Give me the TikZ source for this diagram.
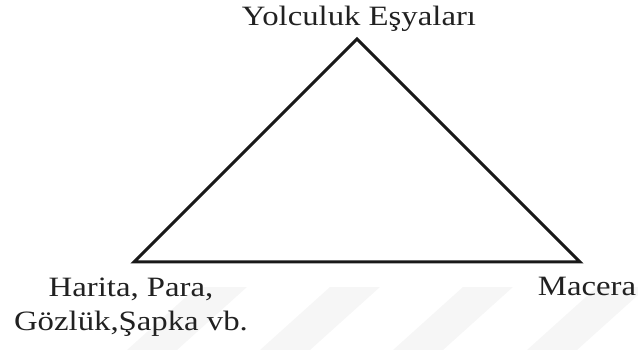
\documentclass[tikz,border=0pt]{standalone}
\usepackage{fontspec}
\setmainfont{Liberation Serif}[FakeStretch=1.17]
\begin{document}
\begin{tikzpicture}[x=1pt,y=-1pt,
  lbl/.style={inner sep=0pt, font=\fontsize{28}{33.6}\selectfont, text=black!87},
  tri/.style={line width=3pt, line join=miter, black!90},
  wm/.style={fill=gray!7, draw=none}]
\useasboundingbox (0,0) rectangle (638,350);
% faint watermark stripes
\foreach \x in {197,330,463,597}{
  \fill[wm] (\x,287) -- (\x+50,287) -- (\x-20,350) -- (\x-70,350) -- cycle;
}
\coordinate (A) at (357,39);
\coordinate (L) at (134,262);
\coordinate (R) at (580,262);
\draw[tri] (L) -- (A) -- (R) -- cycle;
\node[lbl, anchor=base] (top) at (359,26) {Yolculuk Eşyaları};
\node[lbl, anchor=base, align=center] (left) at (131,330) {Harita, Para,\\Gözlük,Şapka vb.};
\node[lbl, anchor=base] (right) at (587,295) {Macera};
\end{tikzpicture}
\end{document}
